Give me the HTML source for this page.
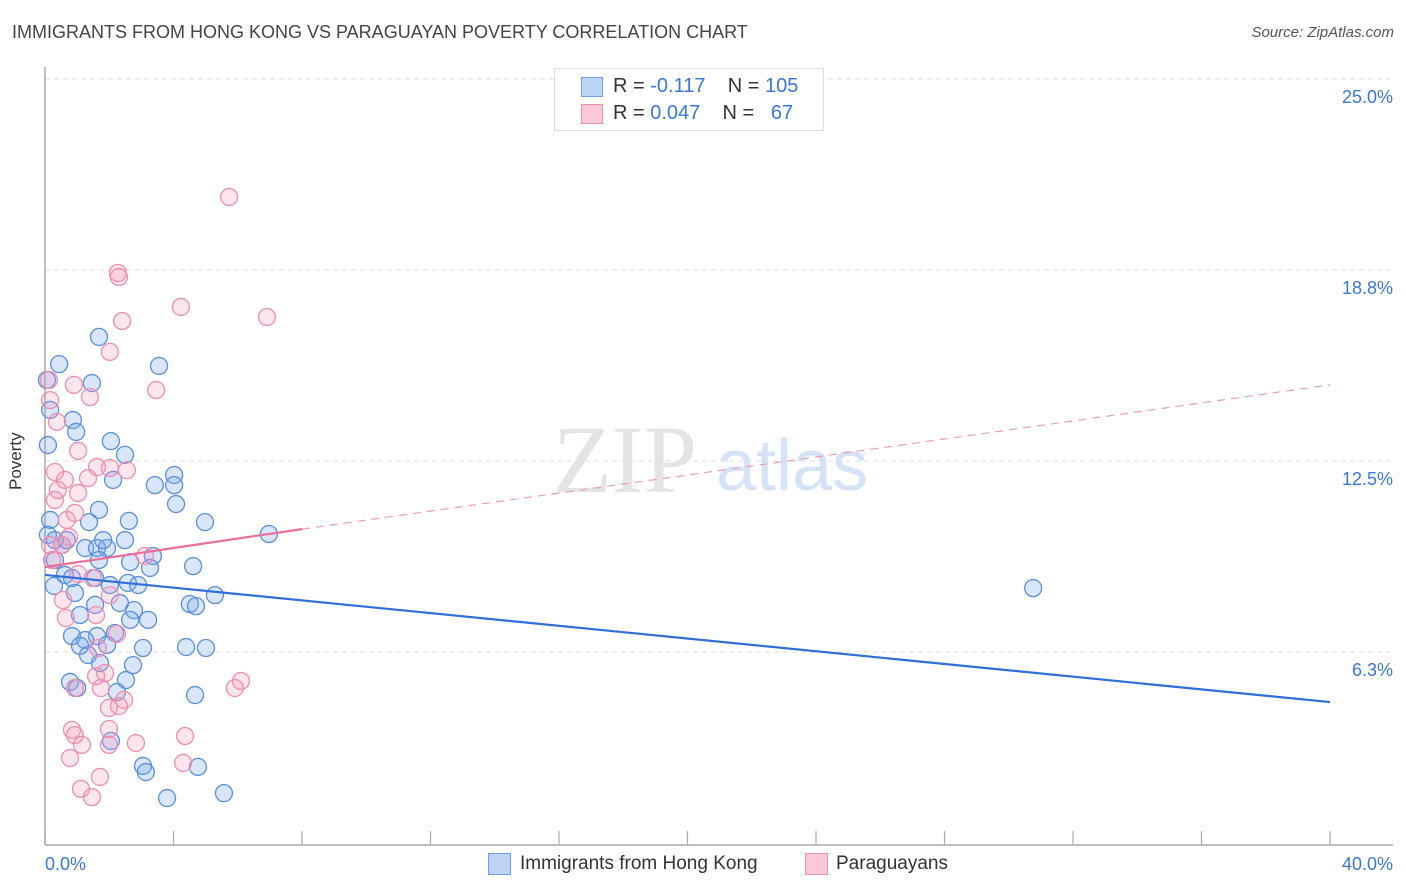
<!DOCTYPE html>
<html><head><meta charset="utf-8"><style>
body{margin:0;background:#fff;font-family:"Liberation Sans",sans-serif;}
#wrap{position:relative;width:1406px;height:892px;overflow:hidden;}
.t{position:absolute;white-space:nowrap;}
</style></head><body>
<div id="wrap">
<div class="t" style="left:12px;top:22px;font-size:18px;color:#444;">IMMIGRANTS FROM HONG KONG VS PARAGUAYAN POVERTY CORRELATION CHART</div>
<div class="t" style="right:12px;top:24px;font-size:15px;color:#555;font-style:italic;">Source: ZipAtlas.com</div>
<div class="t" style="left:6px;top:440px;font-size:17px;color:#333;transform:rotate(-90deg);transform-origin:left top;top:490px;">Poverty</div>
<svg id="plot" width="1406" height="892" style="position:absolute;left:0;top:0"></svg>
<div style="position:absolute;left:554px;top:68px;width:268px;height:61px;border:1px solid #ddd;background:#fff;font-size:20px;">
 <div style="position:absolute;left:26px;top:8px;width:20px;height:18px;background:#bcd3f5;border:1px solid #6f9fe6;"></div>
 <div class="t" style="left:58px;top:6px;color:#333;">R = <span style="color:#3a78d8">-0.117</span>&nbsp;&nbsp;&nbsp; N = <span style="color:#3a78d8">105</span></div>
 <div style="position:absolute;left:26px;top:35px;width:20px;height:18px;background:#f9c9d8;border:1px solid #ee8fb0;"></div>
 <div class="t" style="left:58px;top:33px;color:#333;">R = <span style="color:#3a78d8">0.047</span>&nbsp;&nbsp;&nbsp; N = &nbsp;&nbsp;<span style="color:#3a78d8">67</span></div>
</div>
<div>
 <div style="position:absolute;left:488px;top:853px;width:21px;height:20px;background:#bcd3f5;border:1px solid #6f9fe6;"></div>
 <div class="t" style="left:520px;top:853px;font-size:19px;color:#333;">Immigrants from Hong Kong</div>
 <div style="position:absolute;left:805px;top:853px;width:21px;height:20px;background:#f9c9d8;border:1px solid #ee8fb0;"></div>
 <div class="t" style="left:836px;top:853px;font-size:19px;color:#333;">Paraguayans</div>
</div>
</div>
<script>
const xTicks=[0,40];
const yTicks=[25.0,18.8,12.5,6.3];
const yTickVals=[25,18.75,12.5,6.25];
const blueX=[0.44,1.68,1.46,3.55,0.87,0.97,2.05,2.49,2.12,3.42,4.02,4.02,4.08,4.98,2.61,1.68,1.37,0.16,0.09,0.31,0.53,0.68,1.25,1.62,1.93,2.49,1.81,3.36,1.68,2.65,3.27,4.61,0.31,0.62,0.84,0.28,1.56,2.02,2.58,2.90,0.93,1.56,2.33,2.77,4.51,4.70,5.29,1.09,2.65,3.21,1.62,2.18,0.84,1.25,1.09,1.34,1.93,3.05,4.39,5.01,1.71,2.74,0.78,1.00,2.52,2.24,4.67,2.05,3.05,3.14,4.76,3.80,5.57,30.76,6.97,0.09,0.16,0.06];
const blueY=[16.26,17.15,15.64,16.20,14.43,14.04,13.74,13.29,12.47,12.30,12.63,12.30,11.68,11.09,11.13,11.49,11.09,11.16,10.67,10.50,10.34,10.50,10.24,10.24,10.24,10.50,10.50,9.98,9.85,9.78,9.59,9.65,9.85,9.36,9.26,9.00,9.26,9.03,9.10,9.03,8.77,8.38,8.44,8.21,8.41,8.34,8.70,8.05,7.89,7.89,7.36,7.46,7.36,7.23,7.04,6.74,7.07,6.97,7.00,6.97,6.48,6.41,5.86,5.66,5.92,5.53,5.43,3.93,3.11,2.91,3.08,2.06,2.22,8.93,10.70,13.61,14.76,15.74];
const pinkX=[5.73,2.27,2.30,4.23,6.91,2.40,2.02,0.12,0.90,3.46,1.40,0.16,0.37,1.03,2.02,2.55,1.62,0.31,1.34,0.62,0.40,1.03,0.31,0.68,0.93,0.75,0.53,3.11,1.03,1.49,0.56,2.02,0.65,1.59,2.24,1.65,1.87,1.59,0.93,1.74,6.10,5.91,2.46,1.99,2.30,0.84,1.99,0.93,1.15,1.99,2.83,4.36,0.78,4.30,1.71,1.12,1.46,0.16,0.22];
const pinkY=[21.73,19.24,19.11,18.13,17.80,17.67,16.66,15.74,15.58,15.41,15.18,15.08,14.37,13.42,12.86,12.79,12.89,12.73,12.53,12.47,12.14,12.04,11.81,11.16,11.39,10.60,10.34,9.98,9.39,9.26,8.54,8.70,7.95,8.05,7.43,6.97,6.15,6.05,5.66,5.66,5.89,5.66,5.27,5.01,5.07,4.29,4.32,4.12,3.80,3.80,3.86,4.09,3.37,3.21,2.75,2.36,2.09,10.34,9.85];
const blueTrend=[[0,9.36],[40,5.20]];
const pinkTrendSolid=[[0,9.62],[8,10.86]];
const pinkTrendDash=[[8,10.86],[40,15.58]];
const X=v=>45+v/40*1285;
const Y=v=>97+(25-v)*30.56;
const svg=document.getElementById('plot');
const NS='http://www.w3.org/2000/svg';
function mk(tag,attrs){const e=document.createElementNS(NS,tag);for(const k in attrs)e.setAttribute(k,attrs[k]);svg.appendChild(e);return e;}
// grid
yTickVals.forEach((v,i)=>{
 const g=mk('line',{x1:45,x2:1393,y1:Y(v)-18,y2:Y(v)-18,stroke:'#ddd','stroke-dasharray':'5,4'});
 
 
 const t=mk('text',{x:1393,y:Y(v)+6,'text-anchor':'end','font-size':18,fill:'#3a78d8','font-family':'Liberation Sans, sans-serif'});
 t.textContent=yTicks[i].toFixed(1)+'%';
 
 
});
// axes
let a=mk('line',{x1:45,x2:45,y1:67,y2:845,stroke:'#aaa','stroke-width':1.5});


a=mk('line',{x1:45,x2:1393,y1:845,y2:845,stroke:'#aaa','stroke-width':1.5});


for(let i=0;i<=10;i++){const tk=mk('line',{x1:X(i*4),x2:X(i*4),y1:831,y2:845,stroke:'#aaa','stroke-width':1.2});
 
 }
xTicks.forEach((v,i)=>{const t=mk('text',{x:i?1393:45,y:870,'text-anchor':i?'end':'start','font-size':18,fill:'#3a78d8','font-family':'Liberation Sans, sans-serif'});
 t.textContent=v.toFixed(1)+'%';
 
 });
// watermark
let w=mk('text',{x:553,y:492,'font-size':96,fill:'#e4e4e4','font-family':'Liberation Serif, serif'});w.textContent='ZIP';


w=mk('text',{x:716,y:490,'font-size':72,fill:'#d6e3f6','font-family':'Liberation Sans, sans-serif'});w.textContent='atlas';


// points
blueX.forEach((v,i)=>{const c=mk('circle',{cx:X(v),cy:Y(blueY[i]),r:8.5,fill:'rgba(120,165,235,0.28)',stroke:'#5b8fe0','stroke-width':1.3});
 
 });
pinkX.forEach((v,i)=>{const c=mk('circle',{cx:X(v),cy:Y(pinkY[i]),r:8.5,fill:'rgba(245,150,185,0.25)',stroke:'#ee8fb0','stroke-width':1.3});
 
 });
// trends
let l=mk('line',{x1:X(blueTrend[0][0]),y1:Y(blueTrend[0][1]),x2:X(blueTrend[1][0]),y2:Y(blueTrend[1][1]),stroke:'#2f6fd8','stroke-width':2.2});


l=mk('line',{x1:X(pinkTrendSolid[0][0]),y1:Y(pinkTrendSolid[0][1]),x2:X(pinkTrendSolid[1][0]),y2:Y(pinkTrendSolid[1][1]),stroke:'#e8709a','stroke-width':2.2});


l=mk('line',{x1:X(pinkTrendDash[0][0]),y1:Y(pinkTrendDash[0][1]),x2:X(pinkTrendDash[1][0]),y2:Y(pinkTrendDash[1][1]),stroke:'#e8a0b8','stroke-width':1.2,'stroke-dasharray':'8,6'});


</script>
</body></html>
